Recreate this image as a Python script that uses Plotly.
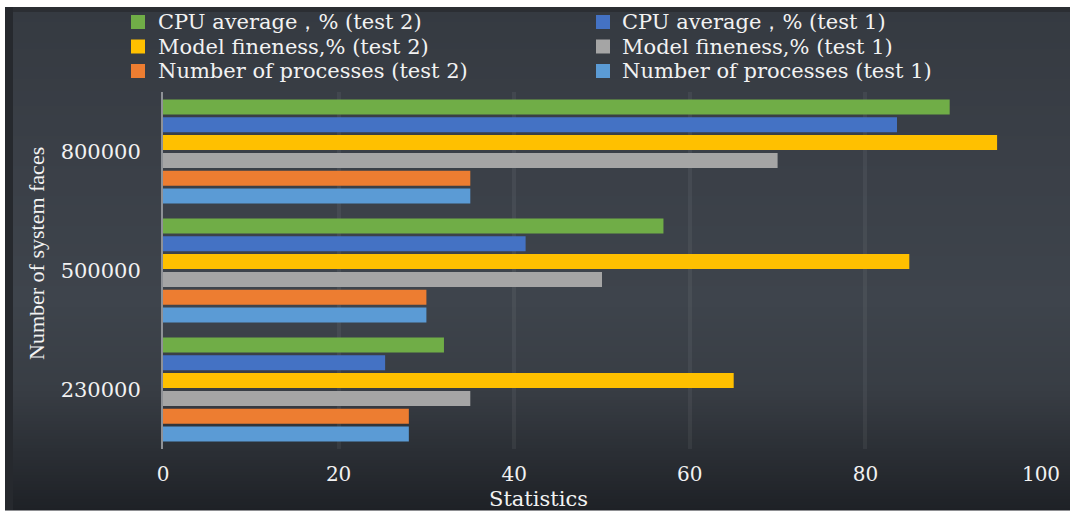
import plotly.graph_objects as go

# Data: number of system faces vs. test statistics
faces = ["230000", "500000", "800000"]
processes_t1 = [28, 30, 35]
processes_t2 = [28, 30, 35]
fineness_t1 = [35, 50, 70]
fineness_t2 = [65, 85, 95]
cpu_t1 = [25.3, 41.3, 83.6]
cpu_t2 = [32, 57, 89.6]
x_ticks = [0, 20, 40, 60, 80, 100]

# bottom-to-top order inside each group
series = [
    ("Number of processes (test 1)", processes_t1, "#5b9bd5"),
    ("Number of processes (test 2)", processes_t2, "#ed7d31"),
    ("Model fineness,% (test 1)", fineness_t1, "#a5a5a5"),
    ("Model fineness,% (test 2)", fineness_t2, "#ffc000"),
    ("CPU average，% (test 1)", cpu_t1, "#4472c4"),
    ("CPU average，% (test 2)", cpu_t2, "#70ad47"),
]
color_of = {name: c for name, _, c in series}

W, H = 1070, 513
ML, MR, MT, MB = 163, 29, 92, 64
PW, PH = W - ML - MR, H - MT - MB


def px(x):
    return (x - ML) / PW


def py(y):
    return 1 - (y - MT) / PH


fig = go.Figure()
for name, vals, col in series:
    fig.add_trace(go.Bar(
        y=faces, x=vals, name=name, orientation="h",
        marker=dict(color=col, line=dict(width=0)),
        showlegend=False,
    ))

shapes = []


def hexrgb(h):
    h = h.lstrip("#")
    return [int(h[i:i + 2], 16) for i in (0, 2, 4)]


# dark vertical gradient panel behind the chart
stops = [(7, "#353a41"), (150, "#3a3f47"), (300, "#3e444c"),
         (390, "#383d44"), (450, "#2b2f35"), (510, "#1e2126")]


def grad(y):
    for (y0, c0), (y1, c1) in zip(stops, stops[1:]):
        if y0 <= y <= y1:
            t = (y - y0) / (y1 - y0)
            a, b = hexrgb(c0), hexrgb(c1)
            return "rgb(%d,%d,%d)" % tuple(round(a[i] + (b[i] - a[i]) * t) for i in range(3))
    return stops[-1][1]


step = 3
y = 7
while y < 510:
    y2 = min(y + step, 510)
    shapes.append(dict(type="rect", xref="paper", yref="paper",
                       x0=px(5), x1=px(W + 2), y0=py(y2 + 0.6), y1=py(y),
                       fillcolor=grad(y + step / 2), line=dict(width=0), layer="below"))
    y = y2

# darker bevel on top and left edges of the panel
shapes.append(dict(type="rect", xref="paper", yref="paper",
                   x0=px(5), x1=px(W + 2), y0=py(12), y1=py(7),
                   fillcolor="#2b2e33", line=dict(width=0), layer="below"))
shapes.append(dict(type="rect", xref="paper", yref="paper",
                   x0=px(5), x1=px(13), y0=py(510), y1=py(7),
                   fillcolor="#26292e", line=dict(width=0), layer="below"))

annotations = []

# legend block: two columns, three rows
legend_rows = [
    ("CPU average，% (test 2)", "CPU average，% (test 1)"),
    ("Model fineness,% (test 2)", "Model fineness,% (test 1)"),
    ("Number of processes (test 2)", "Number of processes (test 1)"),
]
row_y = [22, 46.5, 71]
col_x = [(131, 157), (596, 621)]
for (left, right), ry in zip(legend_rows, row_y):
    for name, (sx, tx) in zip((left, right), col_x):
        shapes.append(dict(type="rect", xref="paper", yref="paper",
                           x0=px(sx), x1=px(sx + 14), y0=py(ry + 7), y1=py(ry - 7),
                           fillcolor=color_of[name], line=dict(width=0)))
        annotations.append(dict(xref="paper", yref="paper", x=px(tx), y=py(ry),
                                xanchor="left", yanchor="middle", showarrow=False,
                                text=name, borderpad=0,
                                font=dict(family="DejaVu Serif", size=21, color="#f2f2f2")))

annotations.append(dict(xref="paper", yref="paper", x=px(538), y=py(499),
                        xanchor="center", yanchor="middle", showarrow=False,
                        text="Statistics", borderpad=0,
                        font=dict(family="DejaVu Serif", size=21, color="#f2f2f2")))
annotations.append(dict(xref="paper", yref="paper", x=px(37), y=py(254),
                        xanchor="center", yanchor="middle", showarrow=False,
                        text="Number of system faces", textangle=-90,
                        font=dict(family="Liberation Serif", size=22, color="#f2f2f2")))

fig.update_layout(
    width=W, height=H,
    margin=dict(l=ML, r=MR, t=MT, b=MB, pad=0, autoexpand=False),
    paper_bgcolor="white",
    plot_bgcolor="rgba(0,0,0,0)",
    barmode="group",
    bargap=0.105,
    bargroupgap=0.155,
    shapes=shapes,
    annotations=annotations,
    showlegend=False,
    xaxis=dict(
        range=[0, 100], tickvals=x_ticks, ticktext=[str(v) for v in x_ticks],
        showgrid=True, gridcolor="rgba(255,255,255,0.055)", gridwidth=4,
        zeroline=False, showline=False, automargin=False,
        ticks="outside", ticklen=7, tickcolor="rgba(0,0,0,0)",
        tickfont=dict(family="DejaVu Serif", size=20, color="#f2f2f2"),
    ),
    yaxis=dict(
        type="category", categoryorder="array", categoryarray=faces,
        showgrid=False, zeroline=False, automargin=False,
        showline=True, linecolor="#8e9196", linewidth=2,
        ticks="outside", ticklen=16, tickcolor="rgba(0,0,0,0)",
        tickfont=dict(family="DejaVu Serif", size=21, color="#f2f2f2"),
    ),
)

fig.write_html("out.html")
